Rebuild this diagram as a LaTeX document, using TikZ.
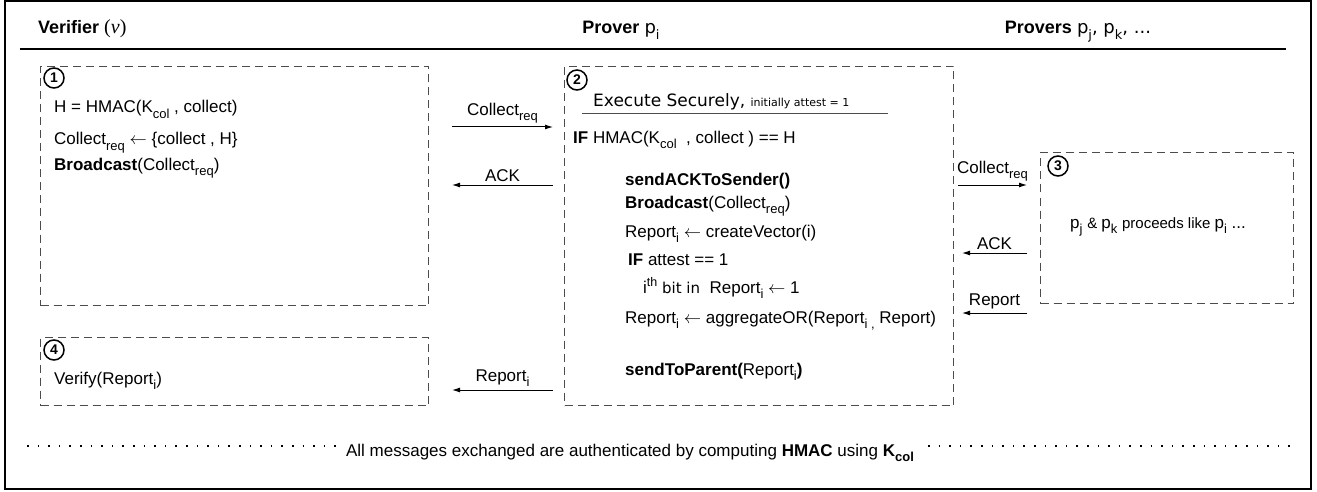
\documentclass[tikz,border=0pt]{standalone}
\usepackage{fontspec}
\setmainfont{Liberation Sans}
\newfontfamily\comicfont{DejaVu Sans}
\newfontfamily\seriffont{Liberation Serif}
\usetikzlibrary{arrows.meta}

\newcommand{\lo}[1]{\raisebox{-0.6ex}{\fontsize{13}{13}\selectfont #1}}
\newcommand{\hi}[1]{\raisebox{0.75ex}{\fontsize{12.5}{12.5}\selectfont #1}}

\tikzset{
  phase/.style={draw=black!70,line width=1pt,dash pattern=on 8pt off 5pt},
  stepno/.style={circle,draw,line width=1.5pt,inner sep=0pt,minimum size=20pt,font=\fontsize{14}{14}\selectfont\bfseries},
  txt/.style={anchor=base west,inner sep=0pt},
  msg/.style={line width=1pt,-{Latex[length=8pt,width=5pt]}},
  msglabel/.style={midway,above,inner sep=3pt},
}

\begin{document}
\begin{tikzpicture}[x=1pt,y=-1pt]
    \providecommand{\headfontsize}{\fontsize{18}{21}\selectfont}
    \providecommand{\textfontsize}{\fontsize{17}{20}\selectfont}
    \tikzset{every node/.append style={font=\textfontsize}}
    \useasboundingbox (0,0) rectangle (1317,492);
    \draw[line width=2pt] (5,1) rectangle (1311,489);
    % header
    \node[txt,font=\headfontsize\bfseries] (verifier) at (38,34) {Verifier {\seriffont\mdseries\fontsize{20}{22}\selectfont(\textit{ν})}};
    \node[anchor=base,inner sep=0pt,font=\headfontsize\bfseries] (prover) at (621,34) {Prover {\comicfont\mdseries p\lo{i}}};
    \node[anchor=base,inner sep=0pt,font=\headfontsize\bfseries] (provers) at (1078,34) {Provers {\comicfont\mdseries p\lo{j}, p\lo{k}, ...}};
    \draw[line width=1.8pt] (20,49) -- (1286,49);
    % dashed phases
    \node[phase,anchor=north west,minimum width=388pt,minimum height=239pt] (collectbox) at (40,66) {};
    \node[phase,anchor=north west,minimum width=389pt,minimum height=339pt] (proverbox) at (564,66) {};
    \node[phase,anchor=north west,minimum width=253pt,minimum height=151pt] (othersbox) at (1040,152) {};
    \node[phase,anchor=north west,minimum width=388pt,minimum height=68pt] (verifybox) at (40,337) {};
    \node[stepno] (s1) at (54,78) {1};
    \node[stepno] (s2) at (577,80) {2};
    \node[stepno] (s3) at (1058,166) {3};
    \node[stepno] (s4) at (54,350) {4};
    % verifier
    \node[txt] (hmac) at (54,113) {H = HMAC(K\lo{col} , collect)};
    \node[txt] (req) at (54,145) {Collect\lo{req} $\leftarrow$ \{collect , H\}};
    \node[txt] (bcast) at (54,170) {\textbf{Broadcast}(Collect\lo{req})};
    \node[txt] (verify) at (54,384) {Verify(Report\lo{i})};
    % prover
    \node[txt,font=\comicfont\fontsize{17}{20}\selectfont] (secure) at (593,107) {Execute Securely, {\fontsize{11}{13}\selectfont initially attest = 1}};
    \draw[line width=1pt,black!70] (582,114) -- (888,114);
    \node[txt] (check) at (573,143) {\textbf{IF} HMAC(K\lo{col}\ \ , collect ) == H};
    \node[txt] (ack) at (625,185) {\textbf{sendACKToSender()}};
    \node[txt] (fwd) at (625,208) {\textbf{Broadcast}(Collect\lo{req})};
    \node[txt] (vec) at (625,237) {Report\lo{i} $\leftarrow$ createVector(i)};
    \node[txt] (attest) at (628,265) {\textbf{IF} attest == 1};
    \node[txt] (bit) at (643,293) {i\hi{th} {\comicfont\fontsize{15}{17}\selectfont bit in}\ \ Report\lo{i} $\leftarrow$ 1};
    \node[txt] (aggr) at (625,323) {Report\lo{i} $\leftarrow$ aggregateOR(Report\lo{i ,} Report)};
    \node[txt] (send) at (625,375) {\textbf{sendToParent(}Report\lo{i}\textbf{)}};
    % other provers
    \node[txt] (like) at (1070,228) {p\lo{j} {\fontsize{15}{17}\selectfont \& }p\lo{k} {\fontsize{15}{17}\selectfont proceeds like }p\lo{i} ...};
    % messages
    \coordinate (vout) at (452,127);
    \coordinate (pin) at (553,127);
    \coordinate (vack) at (452,185);
    \coordinate (pack) at (553,185);
    \coordinate (vrep) at (452,390);
    \coordinate (prep) at (553,390);
    \coordinate (pout) at (958,185);
    \coordinate (qin) at (1027,185);
    \coordinate (pgetack) at (962,253);
    \coordinate (qack) at (1027,253);
    \coordinate (pgetrep) at (962,313);
    \coordinate (qrep) at (1027,313);
    \draw[msg] (vout) -- node[msglabel] (l1) {Collect\lo{req}} (pin);
    \draw[msg] (pack) -- node[msglabel] (l2) {ACK} (vack);
    \draw[msg] (prep) -- node[msglabel] (l3) {Report\lo{i}} (vrep);
    \draw[msg] (pout) -- node[msglabel] (l4) {Collect\lo{req}} (qin);
    \draw[msg] (qack) -- node[msglabel] (l5) {ACK} (pgetack);
    \draw[msg] (qrep) -- node[msglabel] (l6) {Report} (pgetrep);
    % footer
    \coordinate (dl) at (27,446);
    \coordinate (dr) at (1292,446);
    \draw[line width=1.6pt,dash pattern=on 1.6pt off 9pt] (dl) -- (dr);
    \node[anchor=base,fill=white,inner xsep=6pt,inner ysep=2pt] (note) at (630,456) {All messages exchanged are authenticated by computing \textbf{HMAC} using \textbf{K\lo{col}}};
\end{tikzpicture}
\end{document}
